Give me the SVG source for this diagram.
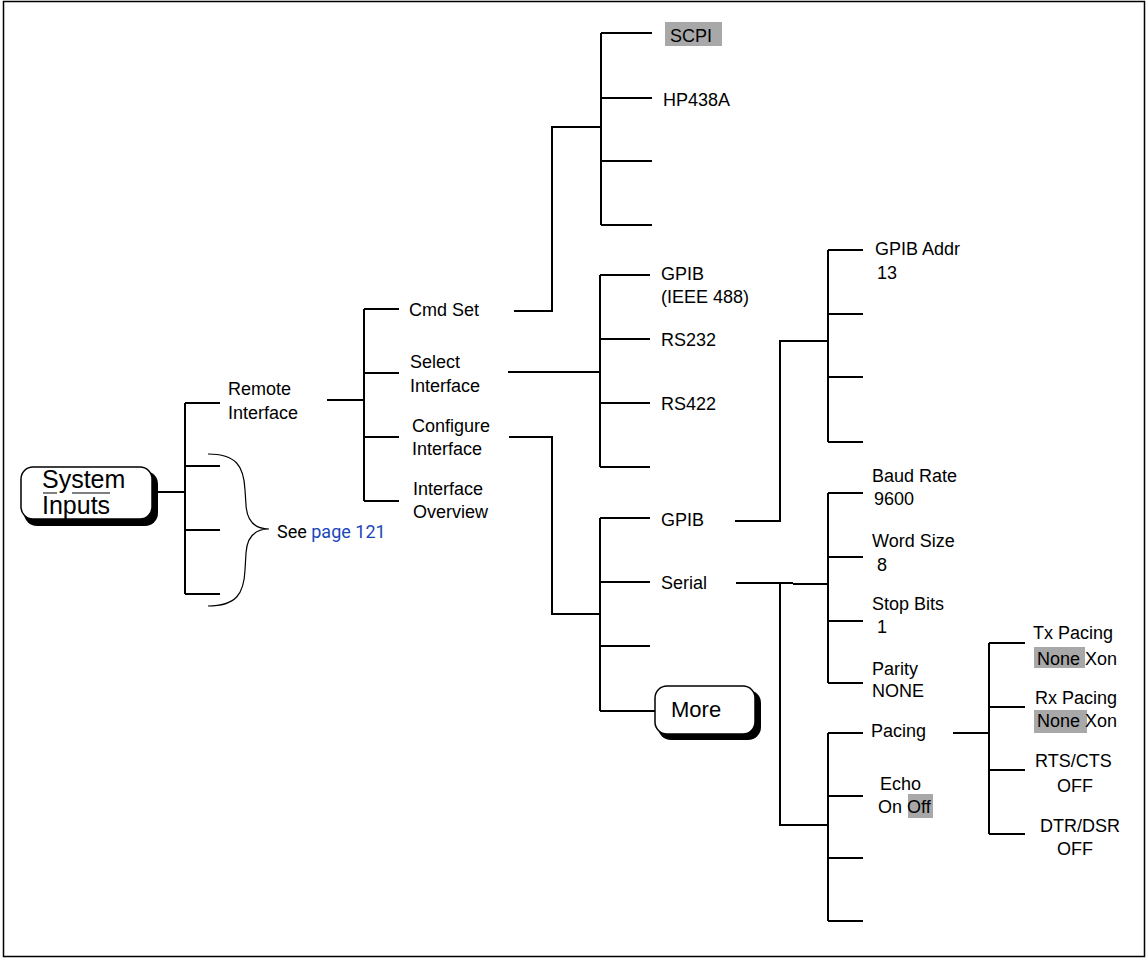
<svg xmlns="http://www.w3.org/2000/svg" width="1148" height="959" viewBox="0 0 1148 959">
<style>
text{font-family:"Liberation Sans",Arial,sans-serif;font-size:18px;fill:#000}
.c{fill:none;stroke:#000;stroke-width:2}
.hl{fill:#a8a8a8}
.btn{fill:#fff;stroke:#000;stroke-width:1.5}
.sh{fill:#000}
</style>
<rect x="3.5" y="1.5" width="1141" height="955" fill="#fff" stroke="#000" stroke-width="1.5"/>
<g id="connectors" class="c">
<path d="M157,492H185M185,403V594M185,403H220M185,466H220M185,530H220M185,594H220"/>
<path d="M327,400H364M364,309V501M364,309H399M364,373H399M364,437H399M364,501H399"/>
<path d="M514,311H552V127H601M601,33V225M601,33H652M601,98H652M601,161H652M601,225H652"/>
<path d="M508,372H600M600,275V467M600,275H650M600,339H650M600,403H650M600,467H650"/>
<path d="M509,437H552V614H600M600,518V711M600,518H650M600,582H650M600,646H650M600,711H656"/>
<path d="M735,521H780V341H828M828,250V442M828,250H863M828,314H863M828,377H863M828,442H863"/>
<path d="M736,583H793M793,584H828M828,493V683M828,493H863M828,557H863M828,621H863M828,683H863"/>
<path d="M780,583V825H828M828,733V921M828,733H863M828,796H863M828,858H863M828,921H863"/>
<path d="M953,733H989M989,643V834M989,643H1025M989,707H1025M989,770H1025M989,834H1025"/>
<path d="M208,454C236,454 244,466 245,490L246,505C247,522 255,529 269,529C255,529 247,537 246,553L245,570C244,594 236,606 208,606" stroke-width="1.2"/>
</g>
<g id="system-inputs">
<rect class="sh" x="24" y="471" width="134" height="55" rx="13"/>
<rect class="btn" x="21" y="467" width="131" height="52" rx="12"/>
<text x="42" y="488" style="font-size:25px">System</text>
<text x="42" y="514" style="font-size:25px">Inputs</text>
<path d="M43,493H57M72,493H110" stroke="#000" stroke-width="1.2"/>
</g>
<g id="see-page"><text x="277" y="538" style="font-family:Roboto,sans-serif;font-size:18px">See <tspan fill="#1a47b8">page 121</tspan></text></g>
<g id="remote-interface"><text x="228" y="395">Remote</text><text x="228" y="419">Interface</text></g>
<g id="cmd-set"><text x="409" y="316">Cmd Set</text></g>
<g id="select-interface"><text x="410" y="368">Select</text><text x="410" y="392">Interface</text></g>
<g id="configure-interface"><text x="412" y="432">Configure</text><text x="412" y="455">Interface</text></g>
<g id="interface-overview"><text x="413" y="495">Interface</text><text x="413" y="518">Overview</text></g>
<g id="scpi"><rect class="hl" x="665" y="22" width="57" height="24"/><text x="670" y="42">SCPI</text></g>
<g id="hp438a"><text x="663" y="106">HP438A</text></g>
<g id="gpib-ieee"><text x="661" y="280">GPIB</text><text x="661" y="303">(IEEE 488)</text></g>
<g id="rs232"><text x="661" y="346">RS232</text></g>
<g id="rs422"><text x="661" y="410">RS422</text></g>
<g id="gpib"><text x="661" y="526">GPIB</text></g>
<g id="serial"><text x="661" y="589">Serial</text></g>
<g id="more">
<rect class="sh" x="658" y="690" width="103" height="50" rx="13"/>
<rect class="btn" x="655" y="686" width="100" height="48" rx="12"/>
<text x="671" y="717" style="font-size:22px">More</text>
</g>
<g id="gpib-addr"><text x="875" y="255">GPIB Addr</text><text x="877" y="279">13</text></g>
<g id="baud-rate"><text x="872" y="482">Baud Rate</text><text x="874" y="505">9600</text></g>
<g id="word-size"><text x="872" y="547">Word Size</text><text x="877" y="571">8</text></g>
<g id="stop-bits"><text x="872" y="610">Stop Bits</text><text x="877" y="633">1</text></g>
<g id="parity"><text x="872" y="675">Parity</text><text x="872" y="697">NONE</text></g>
<g id="pacing"><text x="871" y="737">Pacing</text></g>
<g id="echo"><rect class="hl" x="908" y="794" width="25" height="24"/><text x="880" y="790">Echo</text><text x="878" y="813">On Off</text></g>
<g id="tx-pacing"><rect class="hl" x="1034" y="647" width="51" height="21"/><text x="1033" y="639">Tx Pacing</text><text x="1037" y="665">None Xon</text></g>
<g id="rx-pacing"><rect class="hl" x="1034" y="710" width="53" height="23"/><text x="1035" y="704">Rx Pacing</text><text x="1037" y="727">None Xon</text></g>
<g id="rts-cts"><text x="1035" y="767">RTS/CTS</text><text x="1057" y="792">OFF</text></g>
<g id="dtr-dsr"><text x="1040" y="832">DTR/DSR</text><text x="1057" y="855">OFF</text></g>
</svg>
